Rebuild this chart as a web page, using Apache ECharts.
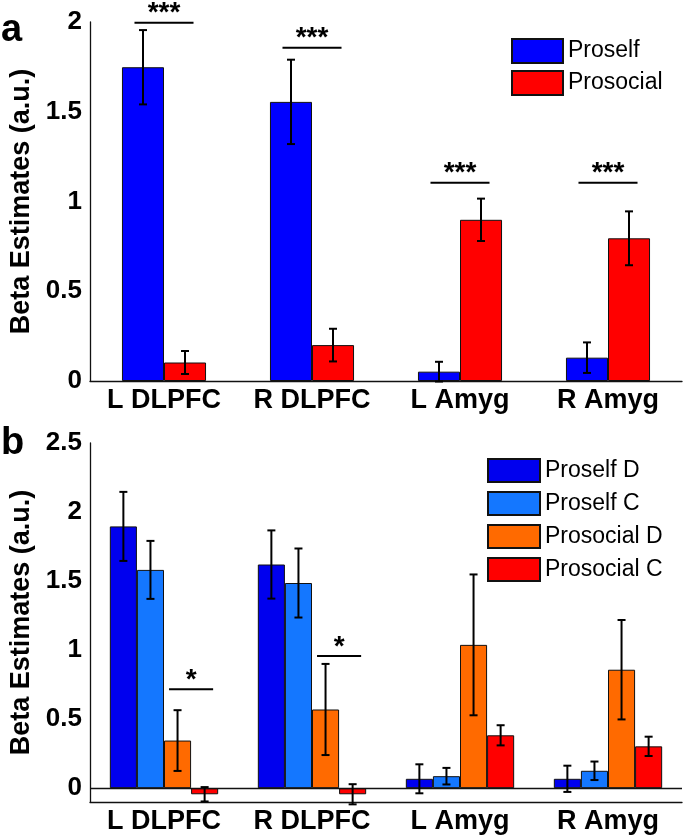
<!DOCTYPE html>
<html>
<head>
<meta charset="utf-8">
<script src="https://cdn.jsdelivr.net/npm/echarts@6/dist/echarts.min.js"></script>
<style>
html,body{margin:0;padding:0;background:#fff;}
#chart{width:685px;height:837px;}
</style>
</head>
<body>
<div id="chart"></div>
<script>
// ---------- data ----------
const categories = ['L DLPFC', 'R DLPFC', 'L Amyg', 'R Amyg'];

// panel a
const proself      = [1.748, 1.555, 0.052, 0.130];
const proselfErr   = [0.207, 0.235, 0.055, 0.085];
const prosocial    = [0.103, 0.200, 0.898, 0.795];
const prosocialErr = [0.064, 0.091, 0.118, 0.150];

// panel b
const proselfD      = [1.896, 1.620, 0.068, 0.068];
const proselfDErr   = [0.250, 0.247, 0.105, 0.095];
const proselfC      = [1.581, 1.486, 0.087, 0.126];
const proselfCErr   = [0.210, 0.250, 0.060, 0.067];
const prosocialD    = [0.345, 0.570, 1.038, 0.858];
const prosocialDErr = [0.220, 0.330, 0.510, 0.360];
const prosocialC    = [-0.044, -0.044, 0.383, 0.303];
const prosocialCErr = [0.052, 0.073, 0.073, 0.070];

// significance markers
const sigCatsA   = [0, 1, 2, 3];
const sigLevelsA = [1.996, 1.857, 1.105, 1.105];
const sigLabelsA = ['***', '***', '***', '***'];
const sigCatsB   = [0, 1];
const sigLevelsB = [0.716, 0.958];
const sigLabelsB = ['*', '*'];

// tick labels
const ticksA = [0, 0.5, 1, 1.5, 2];
const ticksB = [0, 0.5, 1, 1.5, 2, 2.5];

// ---------- chart ----------
const FONT = '"Liberation Sans", Arial, sans-serif';
const RATIO_A = 0.284;   // bar width share of band (panel a)
const RATIO_B = 0.183;   // bar width share of band (panel b)

function errSeries(vals, errs, idx, n, ratio, axisIdx) {
  return {
    type: 'custom', xAxisIndex: axisIdx, yAxisIndex: axisIdx, z: 10, silent: true,
    data: vals.map((v, i) => [i, v - errs[i], v + errs[i]]),
    encode: { x: 0, y: [1, 2] },
    renderItem: function (params, api) {
      const cat = api.value(0);
      const lo = api.coord([cat, api.value(1)]);
      const hi = api.coord([cat, api.value(2)]);
      const bw = api.size([1, 0])[0] * ratio;
      const x = lo[0] + (idx - (n - 1) / 2) * bw;
      const cap = 4;
      const st = { stroke: '#000', lineWidth: 2 };
      return { type: 'group', children: [
        { type: 'line', shape: { x1: x, y1: lo[1], x2: x, y2: hi[1] }, style: st },
        { type: 'line', shape: { x1: x - cap, y1: hi[1], x2: x + cap, y2: hi[1] }, style: st },
        { type: 'line', shape: { x1: x - cap, y1: lo[1], x2: x + cap, y2: lo[1] }, style: st }
      ]};
    }
  };
}

function sigSeries(cats, levels, labels, fromIdx, toIdx, n, ratio, axisIdx) {
  return {
    type: 'custom', xAxisIndex: axisIdx, yAxisIndex: axisIdx, z: 10, silent: true,
    data: cats.map((c, i) => [c, levels[i], i]),
    encode: { x: 0, y: 1 },
    renderItem: function (params, api) {
      const p = api.coord([api.value(0), api.value(1)]);
      const bw = api.size([1, 0])[0] * ratio;
      const x1 = p[0] + (fromIdx - (n - 1) / 2) * bw - 8.5;
      const x2 = p[0] + (toIdx - (n - 1) / 2) * bw + 8.5;
      const lbl = labels[api.value(2)];
      return { type: 'group', children: [
        { type: 'line', shape: { x1: x1, y1: p[1], x2: x2, y2: p[1] }, style: { stroke: '#000', lineWidth: 2 } },
        { type: 'text', x: (x1 + x2) / 2, y: p[1] - 9,
          style: { text: lbl, font: 'bold 28px ' + FONT, fill: '#000', align: 'center', verticalAlign: 'middle' } }
      ]};
    }
  };
}

function barSeries(name, data, color, axisIdx, ratio, extra) {
  return Object.assign({
    name: name, type: 'bar', xAxisIndex: axisIdx, yAxisIndex: axisIdx,
    data: data, barWidth: (ratio * 100) + '%', barGap: '0%',
    itemStyle: { color: color, borderColor: '#111', borderWidth: 1 },
    emphasis: { disabled: true }, animation: false
  }, extra || {});
}

const axisLineStyle = { color: '#111', width: 1.3 };

const option = {
  animation: false,
  backgroundColor: '#fff',
  grid: [
    { left: 90, right: 3, top: 22, height: 359, outerBoundsMode: 'none', containLabel: false },
    { left: 90, right: 3, top: 443, height: 359, outerBoundsMode: 'none', containLabel: false }
  ],
  xAxis: [0, 1].map(i => ({
    type: 'category', gridIndex: i, data: categories,
    axisLine: { show: true, onZero: false, lineStyle: axisLineStyle },
    axisTick: { show: false },
    axisLabel: { color: '#000', fontFamily: FONT, fontWeight: 'bold', fontSize: 27, margin: 6, interval: 0 },
    splitLine: { show: false }
  })),
  yAxis: [
    { type: 'value', gridIndex: 0, min: 0, max: 2, interval: 0.5,
      name: 'Beta Estimates (a.u.)', nameLocation: 'middle', nameGap: 47,
      nameTextStyle: { color: '#000', fontFamily: FONT, fontWeight: 'bold', fontSize: 27 },
      axisLine: { show: true, lineStyle: axisLineStyle }, axisTick: { show: false },
      axisLabel: { color: '#000', fontFamily: FONT, fontWeight: 'bold', fontSize: 26, margin: 8, customValues: ticksA },
      splitLine: { show: false } },
    { type: 'value', gridIndex: 1, min: -0.1, max: 2.5,
      name: 'Beta Estimates (a.u.)', nameLocation: 'middle', nameGap: 47,
      nameTextStyle: { color: '#000', fontFamily: FONT, fontWeight: 'bold', fontSize: 27 },
      axisLine: { show: true, lineStyle: axisLineStyle }, axisTick: { show: false },
      axisLabel: { color: '#000', fontFamily: FONT, fontWeight: 'bold', fontSize: 26, margin: 8, customValues: ticksB },
      splitLine: { show: false } }
  ],
  legend: [
    { data: ['Proself', 'Prosocial'], orient: 'vertical', left: 511, top: 38, padding: 0,
      itemWidth: 51, itemHeight: 24, itemGap: 6, icon: 'rect', selectedMode: false,
      textStyle: { color: '#000', fontFamily: FONT, fontSize: 23, lineHeight: 24 } },
    { data: ['Proself D', 'Proself C', 'Prosocial D', 'Prosocial C'], orient: 'vertical', left: 487, top: 458, padding: 0,
      itemWidth: 52, itemHeight: 23, itemGap: 8, icon: 'rect', selectedMode: false,
      textStyle: { color: '#000', fontFamily: FONT, fontSize: 23, lineHeight: 23 } }
  ],
  graphic: [
    { type: 'text', left: 1, top: 12, style: { text: 'a', font: 'bold 38px ' + FONT, fill: '#000' } },
    { type: 'text', left: 1, top: 425, style: { text: 'b', font: 'bold 38px ' + FONT, fill: '#000' } }
  ],
  series: [
    barSeries('Proself', proself, '#0000FF', 0, RATIO_A),
    barSeries('Prosocial', prosocial, '#FF0000', 0, RATIO_A),
    errSeries(proself, proselfErr, 0, 2, RATIO_A, 0),
    errSeries(prosocial, prosocialErr, 1, 2, RATIO_A, 0),
    sigSeries(sigCatsA, sigLevelsA, sigLabelsA, 0, 1, 2, RATIO_A, 0),

    barSeries('Proself D', proselfD, '#0000EE', 1, RATIO_B, {
      markLine: { silent: true, symbol: 'none', label: { show: false },
        lineStyle: { color: '#111', width: 1.3, type: 'solid' }, data: [{ yAxis: 0 }] } }),
    barSeries('Proself C', proselfC, '#1477FF', 1, RATIO_B),
    barSeries('Prosocial D', prosocialD, '#FF6A00', 1, RATIO_B),
    barSeries('Prosocial C', prosocialC, '#FF0000', 1, RATIO_B),
    errSeries(proselfD, proselfDErr, 0, 4, RATIO_B, 1),
    errSeries(proselfC, proselfCErr, 1, 4, RATIO_B, 1),
    errSeries(prosocialD, prosocialDErr, 2, 4, RATIO_B, 1),
    errSeries(prosocialC, prosocialCErr, 3, 4, RATIO_B, 1),
    sigSeries(sigCatsB, sigLevelsB, sigLabelsB, 2, 3, 4, RATIO_B, 1)
  ]
};

const chart = echarts.init(document.getElementById('chart'), null, { renderer: 'canvas' });
chart.setOption(option);
</script>
</body>
</html>
